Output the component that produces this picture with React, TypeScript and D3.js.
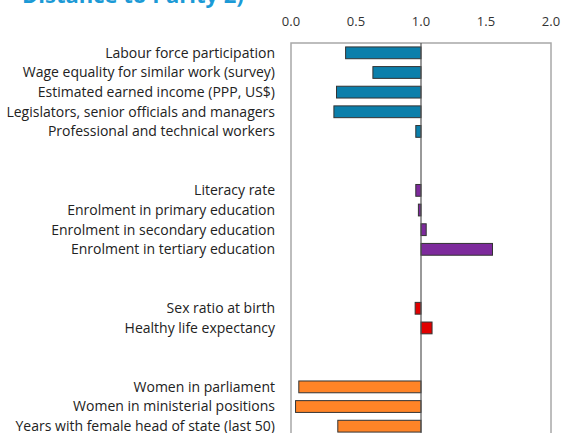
import { useEffect, useRef } from "react";
import * as d3 from "d3";

// indicator rows, "" marks an empty spacer row
const labels = [
  "Labour force participation",
  "Wage equality for similar work (survey)",
  "Estimated earned income (PPP, US$)",
  "Legislators, senior officials and managers",
  "Professional and technical workers",
  "",
  "",
  "Literacy rate",
  "Enrolment in primary education",
  "Enrolment in secondary education",
  "Enrolment in tertiary education",
  "",
  "",
  "Sex ratio at birth",
  "Healthy life expectancy",
  "",
  "",
  "Women in parliament",
  "Women in ministerial positions",
  "Years with female head of state (last 50)",
];

const values = [
  0.42, 0.63, 0.35, 0.33, 0.96, null, null,
  0.96, 0.98, 1.04, 1.55, null, null,
  0.955, 1.085, null, null,
  0.06, 0.035, 0.36,
];

const groups = [
  "eco", "eco", "eco", "eco", "eco", "", "",
  "edu", "edu", "edu", "edu", "", "",
  "hea", "hea", "", "",
  "pol", "pol", "pol",
];

const groupColors: Record<string, string> = {
  eco: "#0B7FAB",
  edu: "#7D2A9C",
  hea: "#E00000",
  pol: "#FF8427",
};

const ticks = [0, 0.5, 1, 1.5, 2];

export default function App() {
  const ref = useRef<SVGSVGElement>(null);

  useEffect(() => {
    const svg = d3.select(ref.current);
    svg.selectAll("*").remove();

    const margin = { top: 43, left: 291, right: 12 };
    const width = 563,
      rowH = 19.65;

    const x = d3.scaleLinear().domain([0, 2]).range([margin.left, width - margin.right]);
    const y = d3
      .scaleBand()
      .domain(labels.map((_, i) => String(i)))
      .range([margin.top, margin.top + rowH * labels.length])
      .paddingInner(0.4)
      .paddingOuter(0.2);

    // title, cut off by the top of the picture
    svg
      .append("text")
      .attr("x", 22)
      .attr("y", 2.5)
      .attr("font-family", "Open Sans, sans-serif")
      .attr("font-weight", "bold")
      .attr("font-size", 22)
      .attr("fill", "#1C9AD6")
      .text("Distance to Parity 2)");

    // tick labels
    svg
      .append("g")
      .selectAll("text")
      .data(ticks)
      .join("text")
      .attr("x", (d) => x(d))
      .attr("y", 26)
      .attr("text-anchor", "middle")
      .attr("font-family", "Open Sans, sans-serif")
      .attr("font-size", 13)
      .attr("fill", "#333")
      .text((d) => d3.format(".1f")(d));

    // frame
    svg
      .append("rect")
      .attr("x", x(0))
      .attr("y", margin.top)
      .attr("width", x(2) - x(0))
      .attr("height", rowH * labels.length)
      .attr("fill", "none")
      .attr("stroke", "#A8A8A8")
      .attr("stroke-width", 1.5);

    // bars
    svg
      .append("g")
      .selectAll("rect")
      .data(values.map((v, i) => ({ v, i })).filter((d) => d.v != null))
      .join("rect")
      .attr("x", (d) => Math.min(x(d.v as number), x(1)))
      .attr("y", (d) => y(String(d.i))!)
      .attr("width", (d) => Math.abs(x(d.v as number) - x(1)))
      .attr("height", y.bandwidth())
      .attr("fill", (d) => groupColors[groups[d.i]])
      .attr("stroke", "#333")
      .attr("stroke-width", 1);

    // parity line
    svg
      .append("line")
      .attr("x1", x(1))
      .attr("x2", x(1))
      .attr("y1", margin.top)
      .attr("y2", margin.top + rowH * labels.length)
      .attr("stroke", "#555")
      .attr("stroke-width", 1.2);

    // row labels
    svg
      .append("g")
      .selectAll("text")
      .data(labels)
      .join("text")
      .attr("x", 275)
      .attr("y", (_, i) => y(String(i))! + y.bandwidth() / 2)
      .attr("dy", "0.35em")
      .attr("text-anchor", "end")
      .attr("font-family", "Open Sans, sans-serif")
      .attr("font-size", 14)
      .attr("fill", "#222")
      .text((d) => d);
  }, []);

  return (
    <svg
      ref={ref}
      width={563}
      height={433}
      style={{ position: "absolute", left: 0, top: 0, background: "#fff" }}
    />
  );
}
